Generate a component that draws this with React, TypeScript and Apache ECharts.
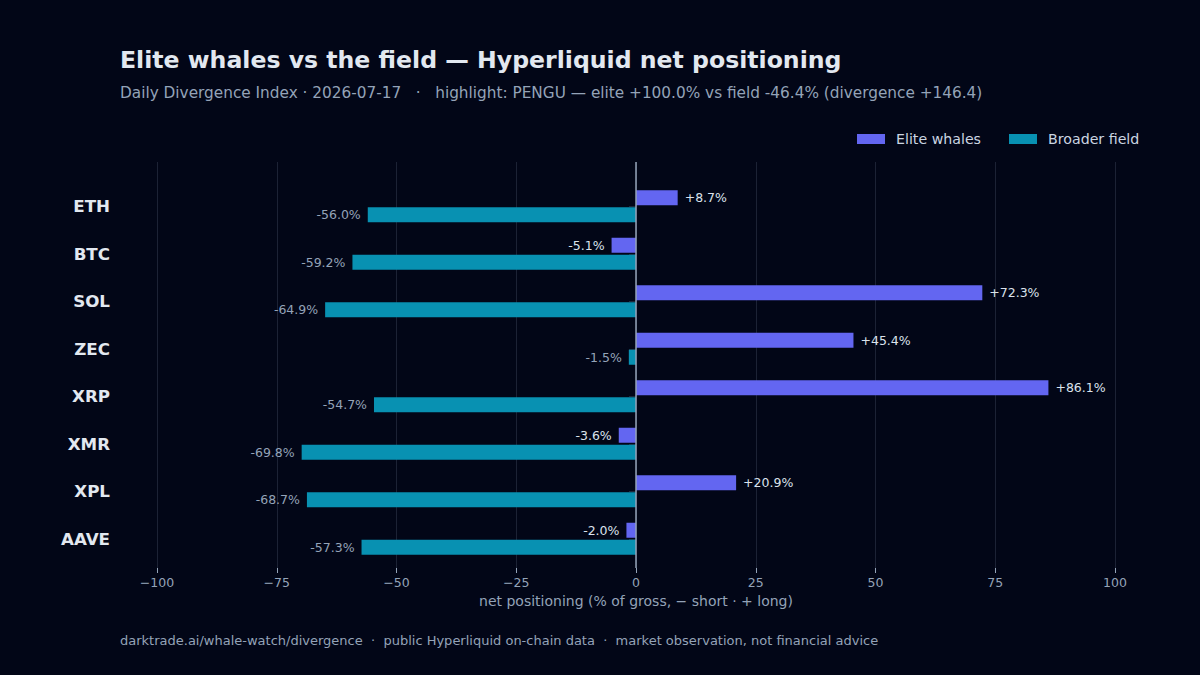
import React, { useEffect, useRef } from "react";
import * as echarts from "echarts";

const categories = ["ETH", "BTC", "SOL", "ZEC", "XRP", "XMR", "XPL", "AAVE"];
const eliteValues = [8.7, -5.1, 72.3, 45.4, 86.1, -3.6, 20.9, -2.0];
const fieldValues = [-56.0, -59.2, -64.9, -1.5, -54.7, -69.8, -68.7, -57.3];
const seriesNames = ["Elite whales", "Broader field"];
const xMin = -100;
const xMax = 100;
const xInterval = 25;

const titleText = "Elite whales vs the field \u2014 Hyperliquid net positioning";
const subtitleText =
  "Daily Divergence Index \u00b7 2026-07-17   \u00b7   highlight: PENGU \u2014 elite +100.0% vs field -46.4% (divergence +146.4)";
const xAxisName = "net positioning (% of gross, \u2212 short \u00b7 + long)";
const footerText =
  "darktrade.ai/whale-watch/divergence  \u00b7  public Hyperliquid on-chain data  \u00b7  market observation, not financial advice";

const FONT = "DejaVu Sans";
const BG = "#020617";
const ELITE = "#6366f1";
const FIELD = "#0891b2";

const fmtPct = (v: number) => (v > 0 ? "+" : "") + v.toFixed(1) + "%";

export default function App() {
  const ref = useRef<HTMLDivElement>(null);
  useEffect(() => {
    if (!ref.current) return;
    const chart = echarts.init(ref.current, null, { renderer: "svg" });
    const mkData = (vals: number[]) =>
      vals.map((v) => ({
        value: v,
        label: { position: v >= 0 ? "right" : "left" },
      }));
    const option: any = {
      animation: false,
      backgroundColor: BG,
      textStyle: { fontFamily: FONT },
      title: [
        {
          text: titleText,
          left: 120,
          top: 45.5,
          textStyle: {
            fontFamily: FONT,
            fontSize: 23.6,
            fontWeight: "bold",
            color: "#e2e8f0",
            lineHeight: 28,
          },
          padding: 0,
        },
        {
          text: subtitleText,
          left: 120,
          top: 84,
          textStyle: {
            fontFamily: FONT,
            fontSize: 15.3,
            fontWeight: "normal",
            color: "#94a3b8",
            lineHeight: 18,
          },
          padding: 0,
        },
        {
          text: footerText,
          left: 120,
          top: 632,
          textStyle: {
            fontFamily: FONT,
            fontSize: 13,
            fontWeight: "normal",
            color: "#94a3b8",
            lineHeight: 16,
          },
          padding: 0,
        },
      ],
      legend: {
        data: seriesNames,
        left: 857,
        top: 131,
        padding: 0,
        itemWidth: 28,
        itemHeight: 10,
        itemGap: 28,
        icon: "rect",
        textStyle: {
          fontFamily: FONT,
          fontSize: 14.2,
          color: "#cbd5e1",
          lineHeight: 16,
          padding: [0, 0, 0, 6],
        },
      },
      grid: [
        { left: 157, right: 85, top: 162, height: 406 },
        { left: 157, right: 85, top: 182.5, height: 380 },
      ],
      xAxis: [
        {
          type: "value",
          gridIndex: 0,
          min: xMin,
          max: xMax,
          interval: xInterval,
          axisLine: { show: false },
          axisTick: { show: true, length: 5, lineStyle: { color: "#94a3b8" } },
          axisLabel: {
            color: "#94a3b8",
            fontSize: 12.5,
            fontFamily: FONT,
            margin: 8,
            formatter: (v: number) => (v < 0 ? "\u2212" + Math.abs(v) : String(v)),
          },
          splitLine: { show: true, lineStyle: { color: "#1c2235", width: 1 } },
          name: xAxisName,
          nameLocation: "middle",
          nameGap: 26,
          nameTextStyle: { color: "#94a3b8", fontSize: 14, fontFamily: FONT },
        },
        {
          type: "value",
          gridIndex: 1,
          min: xMin,
          max: xMax,
          show: false,
        },
      ],
      yAxis: [
        { type: "value", gridIndex: 0, min: 0, max: 1, show: false },
        {
          type: "category",
          gridIndex: 1,
          data: categories,
          inverse: true,
          offset: 36,
          axisLine: { show: false },
          axisTick: {
            show: true,
            alignWithLabel: true,
            length: 7,
            lineStyle: { color: "#1e293b" },
          },
          axisLabel: {
            color: "#e2e8f0",
            fontSize: 16.7,
            fontWeight: "bold",
            fontFamily: FONT,
            margin: 11,
          },
          splitLine: { show: false },
        },
      ],
      series: [
        {
          name: seriesNames[0],
          type: "bar",
          xAxisIndex: 1,
          yAxisIndex: 1,
          data: mkData(eliteValues),
          barWidth: 15,
          barGap: "13.3%",
          itemStyle: { color: ELITE },
          z: 2,
          label: {
            show: true,
            distance: 7,
            color: "#dbe2ec",
            fontSize: 12.5,
            fontFamily: FONT,
            formatter: (p: any) => fmtPct(p.value),
          },
        },
        {
          name: seriesNames[1],
          type: "bar",
          xAxisIndex: 1,
          yAxisIndex: 1,
          data: mkData(fieldValues),
          barWidth: 15,
          barGap: "13.3%",
          itemStyle: { color: FIELD },
          z: 2,
          label: {
            show: true,
            distance: 7,
            color: "#94a3b8",
            fontSize: 12.5,
            fontFamily: FONT,
            formatter: (p: any) => fmtPct(p.value),
          },
        },
        {
          type: "line",
          xAxisIndex: 0,
          yAxisIndex: 0,
          data: [],
          z: 5,
          silent: true,
          markLine: {
            silent: true,
            symbol: ["none", "none"],
            label: { show: false },
            lineStyle: { color: "#94a3b8", width: 1.5, type: "solid" },
            data: [{ xAxis: 0 }],
          },
        },
      ],
    };
    chart.setOption(option);
    return () => chart.dispose();
  }, []);
  return <div ref={ref} style={{ width: 1200, height: 675, position: "absolute", left: 0, top: 0 }} />;
}
